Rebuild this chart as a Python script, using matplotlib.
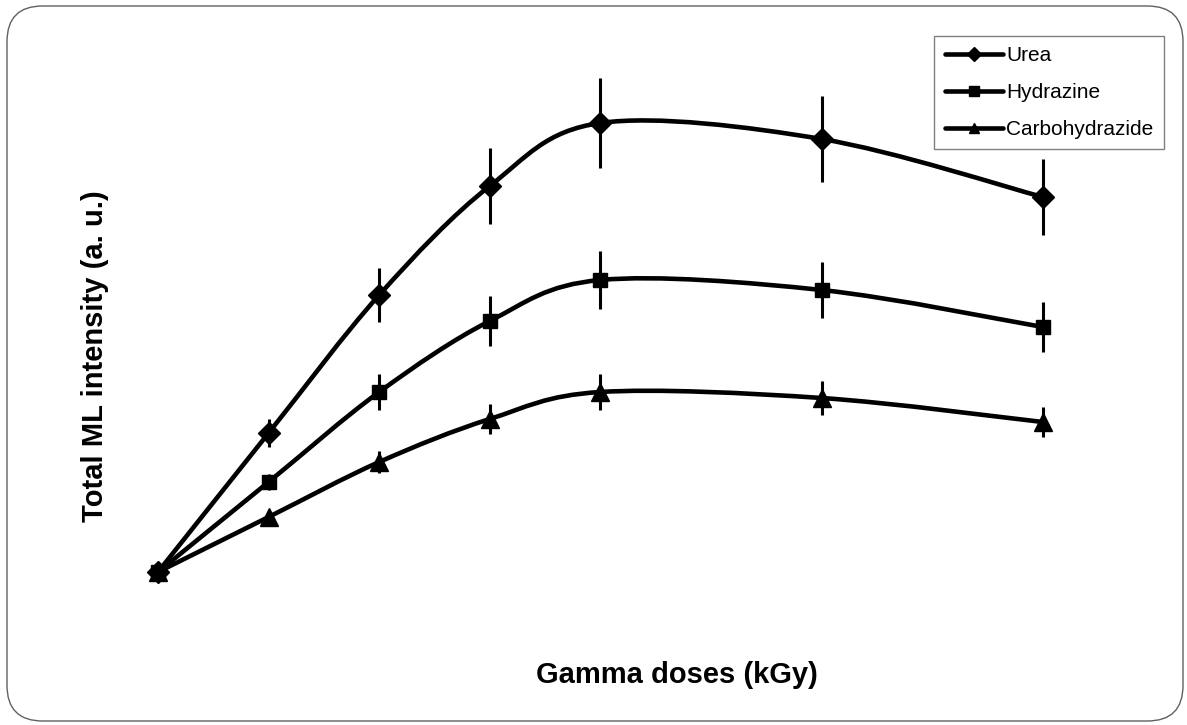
import numpy as np
import matplotlib
matplotlib.use("Agg")
import matplotlib.pyplot as plt
from matplotlib.path import Path
from matplotlib.patches import PathPatch, FancyBboxPatch
from matplotlib.lines import Line2D

plt.rcParams['font.family'] = ['Liberation Sans', 'DejaVu Sans']

# gamma doses (position on the x axis, no tick labels are shown)
doses = [0, 1, 2, 3, 4, 6, 8]

# total ML intensity (a.u.) and error bars
urea = [0, 139, 277, 386, 449, 433, 375]
urea_err = [0, 14, 27, 38, 45, 43, 38]
hydrazine = [0, 90, 180, 251, 292, 282, 245]
hydrazine_err = [0, 8, 18, 25, 29, 28, 25]
carbo = [0, 55, 110, 153, 180, 174, 150]
carbo_err = [0, 5, 11, 15, 18, 17, 15]

labels = ['Urea', 'Hydrazine', 'Carbohydrazide']
markers = ['D', 's', '^']
msizes = [11.5, 10.5, 12.5]

W, H = 1187, 725
fig = plt.figure(figsize=(W / 100, H / 100), dpi=100)

# rounded border around the whole picture
border = FancyBboxPatch((7 / W, 4 / H), (1183 - 7) / W, (719 - 4) / H,
                        boxstyle="round,pad=0,rounding_size=0.03",
                        transform=fig.transFigure, fill=False,
                        edgecolor='#606060', linewidth=1.0,
                        mutation_aspect=W / H)
fig.patches.append(border)

ax = fig.add_axes([120 / W, 1 - 620 / H, (1080 - 120) / W, (620 - 60) / H])
ax.set_xlim((120 - 158) / 110.6, (1080 - 158) / 110.6)
ax.set_ylim(-48, 512)
ax.axis('off')


def smooth_path(x, y):
    # Excel style smoothed line (Catmull-Rom -> cubic bezier)
    pts = np.column_stack([x, y]).astype(float)
    n = len(pts)
    verts = [pts[0]]
    codes = [Path.MOVETO]
    for i in range(n - 1):
        p0 = pts[max(i - 1, 0)]
        p1 = pts[i]
        p2 = pts[i + 1]
        p3 = pts[min(i + 2, n - 1)]
        c1 = p1 + (p2 - p0) / 6.0
        c2 = p2 - (p3 - p1) / 6.0
        verts += [c1, c2, p2]
        codes += [Path.CURVE4] * 3
    return Path(verts, codes)


series = [(urea, urea_err), (hydrazine, hydrazine_err), (carbo, carbo_err)]
handles = []
for (vals, errs), lab, mk, ms in zip(series, labels, markers, msizes):
    ax.add_patch(PathPatch(smooth_path(doses, vals), fill=False,
                           edgecolor='black', linewidth=3.3,
                           capstyle='round', zorder=2))
    ax.errorbar(doses, vals, yerr=errs, fmt='none', ecolor='black',
                elinewidth=2.2, capsize=0, zorder=3)
    ax.plot(doses, vals, linestyle='none', marker=mk, markersize=ms,
            color='black', zorder=4)
    handles.append(Line2D([], [], color='black', linewidth=3.3,
                          solid_capstyle='round',
                          marker=mk, markersize=ms * 0.62, label=lab))

leg = fig.legend(handles=handles, loc='upper right',
                 bbox_to_anchor=(1164 / W, 1 - 36 / H), borderaxespad=0,
                 fontsize=15, frameon=True, fancybox=False,
                 edgecolor='#808080', framealpha=1, handlelength=2.8,
                 handletextpad=0.15, labelspacing=0.85, borderpad=0.5)
leg.get_frame().set_linewidth(1.0)

fig.text(677 / W, 1 - 675 / H, 'Gamma doses (kGy)', ha='center',
         va='center', fontsize=21, fontweight='bold')
fig.text(95 / W, 1 - 356 / H, 'Total ML intensity (a. u.)', ha='center',
         va='center', rotation=90, fontsize=21, fontweight='bold')

fig.savefig('out.png', dpi=100)
